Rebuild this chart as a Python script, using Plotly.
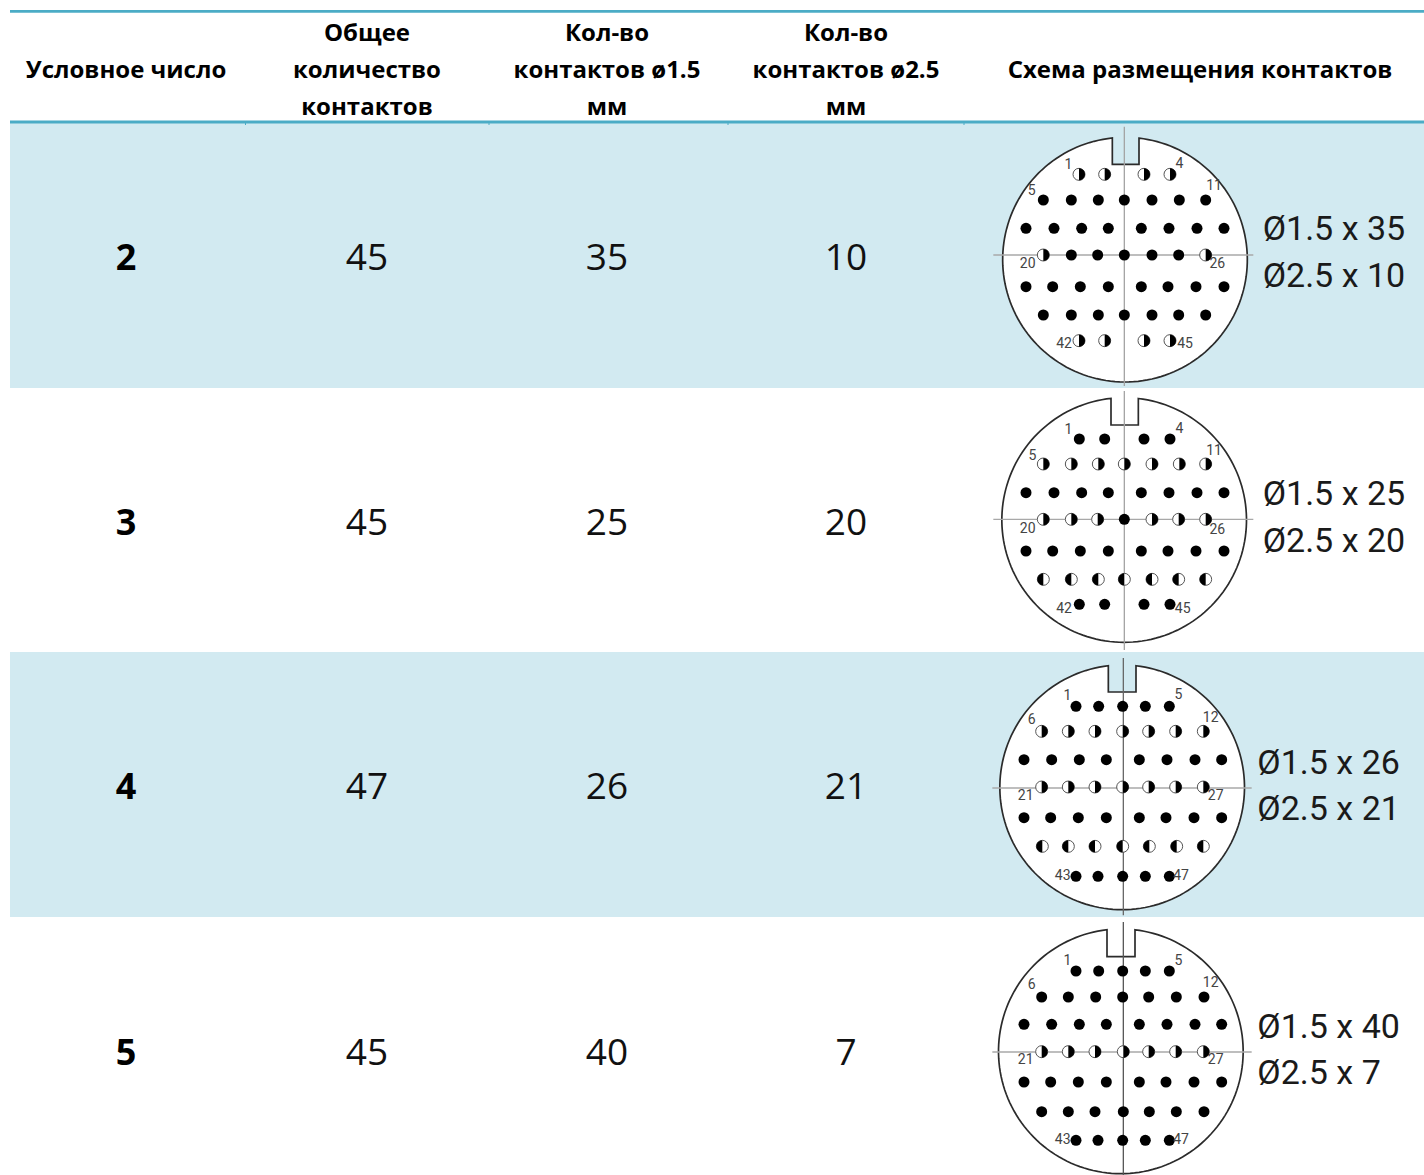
import math
import plotly.graph_objects as go

# ---- table content ----
header_lines = [
    ["Условное число"],
    ["Общее", "количество", "контактов"],
    ["Кол-во", "контактов ø1.5", "мм"],
    ["Кол-во", "контактов ø2.5", "мм"],
    ["Схема размещения контактов"],
]
conditional_number = ["2", "3", "4", "5"]
total_contacts = ["45", "45", "47", "45"]
contacts_d15 = ["35", "25", "26", "40"]
contacts_d25 = ["10", "20", "21", "7"]
callout_d15 = ["Ø1.5 x 35", "Ø1.5 x 25", "Ø1.5 x 26", "Ø1.5 x 40"]
callout_d25 = ["Ø2.5 x 10", "Ø2.5 x 20", "Ø2.5 x 21", "Ø2.5 x 7"]

# ---- table geometry (page pixels) ----
col_x = [126, 367, 607, 846, 1200]
header_y = [35, 72, 109]
row_y = [261, 526, 790, 1056]
band_edges = [123, 388, 652, 917, 1175]
band_fill = ["#d2eaf1", "#ffffff", "#d2eaf1", "#ffffff"]
rule_y = [11.3, 122]
rule_ticks = [245.5, 489, 728, 964]

# ---- connector drawings: local units are 1/3 pixel from each origin ----
origins = [(980, 120), (980, 390), (980, 652), (980, 916)]
circle_c = [(435, 419), (432.5, 390), (426.5, 406), (422.5, 406)]
circle_r = [367, 367, 367, 367]
notch = [(397, 477, 133), (393, 475, 105), (385, 468, 120), (381, 465, 122)]
v_line = [(433, 20, 798), (433, 3, 780), (430, 18, 790), (430, 18, 777)]
h_line = [(40, 820, 405), (40, 820, 388), (37, 815, 408), (37, 815, 408)]
v_colour = ["#a3a3a3", "#a3a3a3", "#666666", "#555555"]

row_ys = [
    [163, 240, 325, 405, 500, 585, 662],
    [147, 222, 308, 388, 483, 568, 643],
    [163, 238, 323, 405, 497, 583, 673],
    [165, 243, 325, 407, 498, 587, 673],
]
row_xs = [
    [[297, 374, 492, 570], [190, 274, 355, 433, 516, 598, 677],
     [138, 222, 305, 385, 484, 567, 651, 732], [190, 274, 353, 433, 516, 596, 677],
     [138, 218, 301, 385, 484, 564, 648, 732], [190, 274, 355, 433, 516, 596, 677],
     [297, 374, 492, 570]],
    [[298, 374, 492, 570], [190, 274, 355, 433, 516, 598, 677],
     [138, 222, 305, 385, 484, 567, 651, 732], [190, 274, 353, 433, 516, 596, 677],
     [138, 218, 301, 385, 484, 564, 648, 732], [190, 274, 355, 433, 516, 596, 677],
     [298, 374, 492, 570]],
    [[288, 356, 428, 496, 568], [185, 265, 345, 428, 506, 587, 670],
     [132, 215, 298, 379, 478, 561, 645, 725], [185, 265, 345, 428, 506, 587, 670],
     [132, 212, 295, 379, 478, 558, 642, 725], [187, 265, 345, 428, 508, 590, 670],
     [288, 354, 428, 496, 568]],
    [[288, 356, 428, 496, 568], [185, 265, 347, 428, 506, 589, 672],
     [132, 215, 298, 379, 478, 561, 645, 725], [185, 265, 345, 430, 506, 587, 670],
     [132, 212, 295, 379, 478, 558, 642, 725], [185, 265, 345, 430, 508, 589, 672],
     [288, 354, 428, 496, 568]],
]
# F = solid contact, R = right half dark, L = left half dark
row_kinds = [
    ["RRRR", "FFFFFFF", "FFFFFFFF", "RFFFFFR", "FFFFFFFF", "FFFFFFF", "RRRR"],
    ["FFFF", "RRRRRRR", "FFFFFFFF", "RRRFRRR", "FFFFFFFF", "LLLLLLL", "FFFF"],
    ["FFFFF", "RRRRRRR", "FFFFFFFF", "RRRRRRR", "FFFFFFFF", "LLLLLLL", "FFFFF"],
    ["FFFFF", "FFFFFFF", "FFFFFFFF", "RRRRRRR", "FFFFFFFF", "FFFFFFF", "FFFFF"],
]
pin_labels = [
    [("1", 265, 135), ("4", 598, 133), ("5", 155, 213), ("11", 702, 200),
     ("20", 143, 433), ("26", 712, 433), ("42", 252, 672), ("45", 615, 672)],
    [("1", 265, 120), ("4", 598, 118), ("5", 157, 200), ("11", 702, 185),
     ("20", 143, 418), ("26", 712, 420), ("42", 252, 657), ("45", 608, 657)],
    [("1", 262, 133), ("5", 595, 130), ("6", 155, 205), ("12", 692, 200),
     ("21", 137, 433), ("27", 707, 433), ("43", 248, 672), ("47", 603, 672)],
    [("1", 262, 135), ("5", 595, 135), ("6", 155, 207), ("12", 692, 203),
     ("21", 137, 433), ("27", 707, 433), ("43", 248, 673), ("47", 603, 673)],
]
callout_x = [848, 848, 832, 832]
callout_y = [(325, 465), (310, 450), (330, 470), (330, 470)]

BODY = "Open Sans, Noto Sans, sans-serif"
DIN = "Roboto, Liberation Sans, sans-serif"
RULE = "#4bacc6"
HALF_R = 6.0


def arc_points(cx, cy, r, start, end, n):
    """Points of an arc, angles in radians, y pointing down the page."""
    return [(cx + r * math.cos(start + (end - start) * k / n),
             cy + r * math.sin(start + (end - start) * k / n)) for k in range(n + 1)]


def poly_path(points):
    return "M " + " L ".join(f"{x:.2f} {y:.2f}" for x, y in points) + " Z"


shapes = []
for top, bottom, fill in zip(band_edges[:-1], band_edges[1:], band_fill):
    shapes.append(dict(type="rect", x0=10, x1=1424, y0=top, y1=bottom,
                       fillcolor=fill, line_width=0, layer="below"))
for y in rule_y:
    shapes.append(dict(type="line", x0=10, x1=1424, y0=y, y1=y,
                       line=dict(color=RULE, width=2.8), layer="below"))
for x in rule_ticks:
    shapes.append(dict(type="line", x0=x, x1=x, y0=122, y1=125,
                       line=dict(color=RULE, width=1), layer="below"))

solid_x, solid_y, half_x, half_y = [], [], [], []
lab_x, lab_y, lab_t = [], [], []
call_x, call_y, call_t = [], [], []

for i, (ox, oy) in enumerate(origins):
    px = lambda u: ox + u / 3
    py = lambda v: oy + v / 3
    cx, cy = circle_c[i]
    r = circle_r[i]
    nl, nr, nb = notch[i]
    a_right = math.atan2(-(r ** 2 - (nr - cx) ** 2) ** 0.5, nr - cx)
    a_left = math.atan2(-(r ** 2 - (nl - cx) ** 2) ** 0.5, nl - cx) + 2 * math.pi
    outline = arc_points(px(cx), py(cy), r / 3, a_right, a_left, 160)
    outline += [(px(nl), py(nb)), (px(nr), py(nb))]
    shapes.append(dict(type="path", path=poly_path(outline), fillcolor="#ffffff",
                       line=dict(color="#2b2b2b", width=1.7), layer="below"))
    vx, v0, v1 = v_line[i]
    shapes.append(dict(type="line", x0=px(vx), x1=px(vx), y0=py(v0), y1=py(v1),
                       line=dict(color=v_colour[i], width=1.3), layer="below"))
    h0, h1, hy = h_line[i]
    shapes.append(dict(type="line", x0=px(h0), x1=px(h1), y0=py(hy), y1=py(hy),
                       line=dict(color="#a8a8a8", width=1.3), layer="below"))

    for y, xs, kinds in zip(row_ys[i], row_xs[i], row_kinds[i]):
        for x, kind in zip(xs, kinds):
            if kind == "F":
                solid_x.append(px(x)); solid_y.append(py(y))
            else:
                half_x.append(px(x)); half_y.append(py(y))
                start = -math.pi / 2 if kind == "R" else math.pi / 2
                shapes.append(dict(
                    type="path",
                    path=poly_path(arc_points(px(x), py(y), HALF_R, start, start + math.pi, 14)),
                    fillcolor="#000000", line_width=0, layer="above"))
    for text, x, y in pin_labels[i]:
        lab_x.append(px(x)); lab_y.append(py(y)); lab_t.append(text)
    call_x += [px(callout_x[i])] * 2
    call_y += [py(callout_y[i][0]) + 3, py(callout_y[i][1]) + 3]
    call_t += [callout_d15[i], callout_d25[i]]

fig = go.Figure()

# header
hx, hy, ht = [], [], []
for x, lines in zip(col_x, header_lines):
    ys = header_y if len(lines) == 3 else [header_y[1]]
    for y, line in zip(ys, lines):
        hx.append(x); hy.append(y); ht.append(line)
fig.add_trace(go.Scatter(x=hx, y=hy, text=ht, mode="text", textposition="middle center",
                         textfont=dict(family=BODY, size=24, color="#000000", weight=700),
                         hoverinfo="skip", name="Заголовок"))
# body
fig.add_trace(go.Scatter(x=[col_x[0]] * 4, y=row_y, text=conditional_number, mode="text",
                         textfont=dict(family=BODY, size=36, color="#000000", weight=700),
                         hoverinfo="skip", name="Условное число"))
for idx, col in zip((1, 2, 3), (total_contacts, contacts_d15, contacts_d25)):
    fig.add_trace(go.Scatter(x=[col_x[idx]] * 4, y=row_y, text=col, mode="text",
                             textfont=dict(family=BODY, size=37, color="#111111"),
                             hoverinfo="skip", name=header_lines[idx][0]))
# contacts
fig.add_trace(go.Scatter(x=half_x, y=half_y, mode="markers", hoverinfo="skip", name="ø2.5",
                         marker=dict(size=12, color="#ffffff", line=dict(color="#555555", width=1))))
fig.add_trace(go.Scatter(x=solid_x, y=solid_y, mode="markers", hoverinfo="skip", name="ø1.5",
                         marker=dict(size=11, color="#000000")))
# labels
fig.add_trace(go.Scatter(x=lab_x, y=lab_y, text=lab_t, mode="text", hoverinfo="skip",
                         textfont=dict(family=DIN, size=14, color="#444444"), name="Номера"))
fig.add_trace(go.Scatter(x=call_x, y=call_y, text=call_t, mode="text", textposition="middle right",
                         textfont=dict(family=DIN, size=34, color="#1a1a1a"),
                         hoverinfo="skip", name="Подпись"))

fig.update_layout(
    width=1424, height=1175, margin=dict(l=0, r=0, t=0, b=0),
    paper_bgcolor="#ffffff", plot_bgcolor="#ffffff", showlegend=False,
    shapes=shapes,
    xaxis=dict(range=[0, 1424], visible=False, fixedrange=True),
    yaxis=dict(range=[1175, 0], visible=False, fixedrange=True),
)
fig.write_html("out.html", config={"displayModeBar": False},
               post_script="document.body.style.margin='0';document.body.style.overflow='hidden';")
